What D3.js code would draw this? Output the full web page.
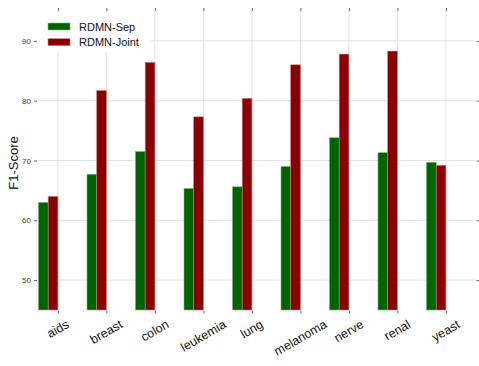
<!DOCTYPE html>
<html>
<head>
<meta charset="utf-8">
<script src="https://cdn.jsdelivr.net/npm/d3@7"></script>
<style>
body { margin: 0; background: #fff; }
svg text { font-family: "Liberation Sans", Arial, sans-serif; }
</style>
</head>
<body>
<div id="graph"></div>
<script>
(function(){
"use strict";

var categories = ["aids", "breast", "colon", "leukemia", "lung", "melanoma", "nerve", "renal", "yeast"];
var sepValues = [63.0, 67.7, 71.5, 65.3, 65.6, 69.0, 73.8, 71.3, 69.7];
var jointValues = [64.0, 81.7, 86.4, 77.3, 80.4, 86.0, 87.8, 88.3, 69.2];
var seriesNames = ["RDMN-Sep", "RDMN-Joint"];
var yTicks = [50, 60, 70, 80, 90];

var width = 479, height = 366;
var plot = {left: 38.5, right: 475, top: 11, bottom: 310};
var barW = 0.2; // in category units
var colors = ["#006400", "#8b0000"];
var edges = ["#7fb07f", "#c47f7f"];

var svg = d3.select("#graph").append("svg")
	.attr("width", width)
	.attr("height", height);

var x = d3.scaleLinear().domain([0, categories.length]).range([plot.left, plot.right]);
var y = d3.scaleLinear().domain([45, 95]).range([plot.bottom, plot.top]);

// grid
svg.append("g").selectAll("line").data(yTicks).enter().append("line")
	.attr("x1", plot.left).attr("x2", plot.right)
	.attr("y1", function(d){ return y(d); }).attr("y2", function(d){ return y(d); })
	.attr("stroke", "#e2e2e2").attr("stroke-width", 1);
svg.append("g").selectAll("line").data(categories).enter().append("line")
	.attr("x1", function(d, i){ return x(i + 2 * barW); })
	.attr("x2", function(d, i){ return x(i + 2 * barW); })
	.attr("y1", plot.top).attr("y2", plot.bottom)
	.attr("stroke", "#e2e2e2").attr("stroke-width", 1);

// bars
var series = [sepValues, jointValues];
series.forEach(function(vals, s){
	svg.append("g").selectAll("rect").data(vals).enter().append("rect")
		.attr("x", function(d, i){ return x(i + s * barW); })
		.attr("width", x(barW) - x(0))
		.attr("y", function(d){ return y(d); })
		.attr("height", function(d){ return plot.bottom - y(d); })
		.attr("fill", colors[s])
		.attr("stroke", edges[s])
		.attr("stroke-width", 0.6);
});

// axes (ticks only, no spines)
var yLeft = d3.axisLeft(y).tickValues(yTicks).tickSize(3).tickPadding(3);
var gl = svg.append("g").attr("transform", "translate(" + (plot.left - 1.5) + ",0)").call(yLeft);
gl.select(".domain").remove();
gl.selectAll("line").attr("stroke", "#666");
gl.selectAll("text").attr("font-size", 8).attr("fill", "#444")
	.style("font-family", "'Liberation Sans', Arial, sans-serif");

var yRight = d3.axisRight(y).tickValues(yTicks).tickSize(3).tickFormat("");
var gr = svg.append("g").attr("transform", "translate(" + (plot.right + 1.5) + ",0)").call(yRight);
gr.select(".domain").remove();
gr.selectAll("line").attr("stroke", "#666");

var tickPos = categories.map(function(d, i){ return i + 2 * barW; });
var xTop = d3.axisTop(x).tickValues(tickPos).tickSize(3).tickFormat("");
var gt = svg.append("g").attr("transform", "translate(0," + (plot.top) + ")").call(xTop);
gt.select(".domain").remove();
gt.selectAll("line").attr("stroke", "#666");

var xBot = d3.axisBottom(x).tickValues(tickPos).tickSize(3).tickFormat("");
var gb = svg.append("g").attr("transform", "translate(0," + (plot.bottom + 0.5) + ")").call(xBot);
gb.select(".domain").remove();
gb.selectAll("line").attr("stroke", "#666");

// rotated category labels, centred on tick, top at fixed y
var fs = 12.5;
var labels = svg.append("g").selectAll("text").data(categories).enter().append("text")
	.attr("font-size", fs)
	.attr("fill", "#111")
	.attr("text-anchor", "middle")
	.attr("dominant-baseline", "central")
	.text(function(d){ return d; });
labels.each(function(d, i){
	var L = this.getComputedTextLength();
	var h = L * 0.5 + fs * 0.866;
	var cx = x(tickPos[i]);
	var cy = 318 + h / 2;
	d3.select(this).attr("x", cx).attr("y", cy)
		.attr("transform", "rotate(-30," + cx + "," + cy + ")");
});

// y label
svg.append("text")
	.attr("transform", "translate(13,163) rotate(-90)")
	.attr("text-anchor", "middle")
	.attr("dominant-baseline", "central")
	.attr("font-size", 13)
	.attr("fill", "#111")
	.text("F1-Score");

// legend, white box over the grid
var leg = svg.append("g");
leg.append("rect")
	.attr("x", 40).attr("y", 13).attr("width", 110).attr("height", 39)
	.attr("fill", "#fff");
seriesNames.forEach(function(name, s){
	var ly = 26.5 + s * 15.7;
	leg.append("rect")
		.attr("x", 48).attr("y", ly - 3.5).attr("width", 22).attr("height", 7)
		.attr("fill", colors[s]).attr("stroke", edges[s]).attr("stroke-width", 0.6);
	leg.append("text")
		.attr("x", 79).attr("y", ly)
		.attr("dominant-baseline", "central")
		.attr("font-size", 11).attr("fill", "#111")
		.text(name);
});

})();
</script>
</body>
</html>
